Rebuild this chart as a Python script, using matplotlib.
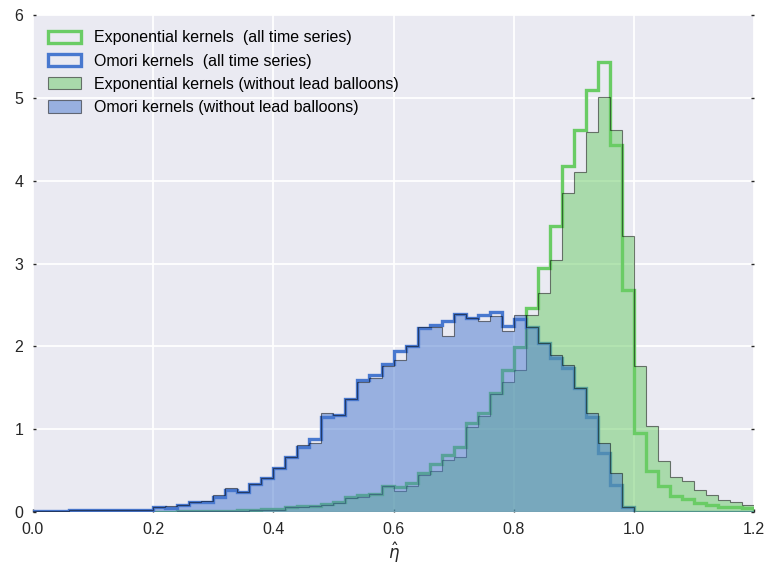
import numpy as np
import matplotlib
matplotlib.use("Agg")
import matplotlib.pyplot as plt

# bin edges: 0.00 .. 1.20 step 0.02 (60 bins)
bin_edges = np.round(np.arange(0, 1.2001, 0.02), 4)

omori_all = [
    0.01, 0.01, 0.015, 0.02, 0.02, 0.02, 0.02, 0.02, 0.03, 0.03,
    0.055, 0.05, 0.08, 0.115, 0.125, 0.185, 0.265, 0.24, 0.34, 0.41,
    0.53, 0.67, 0.79, 0.88, 1.15, 1.17, 1.37, 1.59, 1.65, 1.79,
    1.94, 2.00, 2.22, 2.26, 2.31, 2.39, 2.34, 2.38, 2.41, 2.25,
    2.33, 2.23, 2.04, 1.86, 1.74, 1.50, 1.15, 0.71, 0.33, 0.065,
    0.005, 0.0, 0.0, 0.0, 0.0, 0.0, 0.0, 0.0, 0.0, 0.0,
]
omori_wo = [
    0.01, 0.01, 0.015, 0.02, 0.02, 0.02, 0.02, 0.02, 0.03, 0.03,
    0.055, 0.07, 0.08, 0.115, 0.13, 0.205, 0.29, 0.24, 0.34, 0.41,
    0.53, 0.67, 0.81, 0.83, 1.19, 1.17, 1.37, 1.57, 1.62, 1.76,
    1.84, 2.01, 2.23, 2.23, 2.12, 2.39, 2.34, 2.31, 2.37, 2.19,
    2.38, 2.23, 2.04, 1.90, 1.78, 1.50, 1.20, 0.83, 0.47, 0.065,
    0.005, 0.0, 0.0, 0.0, 0.0, 0.0, 0.0, 0.0, 0.0, 0.0,
]
exp_all = [
    0.0, 0.0, 0.0, 0.0, 0.0, 0.0, 0.0, 0.0, 0.0, 0.003,
    0.005, 0.006, 0.01, 0.012, 0.015, 0.015, 0.015, 0.02, 0.025, 0.035,
    0.035, 0.065, 0.075, 0.075, 0.095, 0.125, 0.185, 0.20, 0.22, 0.31,
    0.30, 0.35, 0.47, 0.58, 0.69, 0.79, 1.07, 1.20, 1.44, 1.71,
    1.99, 2.46, 2.94, 3.45, 4.18, 4.61, 5.10, 5.43, 4.43, 2.68,
    0.95, 0.49, 0.31, 0.19, 0.155, 0.11, 0.088, 0.06, 0.055, 0.045,
]
exp_wo = [
    0.0, 0.0, 0.0, 0.0, 0.0, 0.0, 0.0, 0.0, 0.0, 0.003,
    0.004, 0.005, 0.008, 0.01, 0.012, 0.012, 0.015, 0.015, 0.02, 0.03,
    0.03, 0.055, 0.065, 0.07, 0.085, 0.11, 0.17, 0.18, 0.22, 0.31,
    0.25, 0.31, 0.45, 0.50, 0.63, 0.66, 1.03, 1.16, 1.43, 1.57,
    1.72, 2.38, 2.64, 3.04, 3.85, 4.10, 4.59, 5.01, 4.61, 3.33,
    1.76, 1.04, 0.62, 0.42, 0.37, 0.27, 0.21, 0.145, 0.125, 0.085,
]

labels = [
    "Exponential kernels  (all time series)",
    "Omori kernels  (all time series)",
    "Exponential kernels (without lead balloons)",
    "Omori kernels (without lead balloons)",
]
xticks = [0.0, 0.2, 0.4, 0.6, 0.8, 1.0, 1.2]
yticks = [0, 1, 2, 3, 4, 5, 6]

green = "#6ACC65"
blue = "#4878CF"

plt.rcParams["font.family"] = ["Liberation Sans", "DejaVu Sans"]
plt.rcParams["mathtext.fontset"] = "dejavusans"

fig = plt.figure(figsize=(7.71, 5.67), dpi=100)
ax = fig.add_axes([0.0428, 0.097, 0.9352, 0.8765])
ax.set_facecolor("#EAEAF2")
for s in ax.spines.values():
    s.set_visible(False)
ax.grid(True, color="white", linewidth=1.3, zorder=0)
ax.set_axisbelow(True)

centers = (bin_edges[:-1] + bin_edges[1:]) / 2

ax.hist(centers, bins=bin_edges, weights=exp_all, histtype="step",
        color=green, linewidth=2.4, label=labels[0], zorder=1.1)
ax.hist(centers, bins=bin_edges, weights=omori_all, histtype="step",
        color=blue, linewidth=2.4, label=labels[1], zorder=1.2)
ax.hist(centers, bins=bin_edges, weights=exp_wo, histtype="stepfilled",
        facecolor=green, edgecolor="black", alpha=0.5, linewidth=0.8,
        label=labels[2], zorder=1.3)
ax.hist(centers, bins=bin_edges, weights=omori_wo, histtype="stepfilled",
        facecolor=blue, edgecolor="black", alpha=0.5, linewidth=0.8,
        label=labels[3], zorder=1.4)

ax.set_xlim(0, 1.2)
ax.set_ylim(0, 6)
ax.set_xticks(xticks)
ax.set_xticklabels([f"{t:.1f}" for t in xticks])
ax.set_yticks(yticks)
ax.tick_params(axis="both", labelsize=11.5, length=2, width=1, color="0.15",
               labelcolor="0.15", direction="in", right=True, top=False, pad=7)
ax.set_xlabel(r"$\hat{\eta}$", fontsize=12, color="0.15", labelpad=3)

ax.legend(loc="upper left", frameon=False, fontsize=11.5, handlelength=2.05,
          handleheight=0.8, labelspacing=0.52, borderaxespad=0.55,
          handletextpad=0.8)

fig.savefig("out.png", dpi=100)
